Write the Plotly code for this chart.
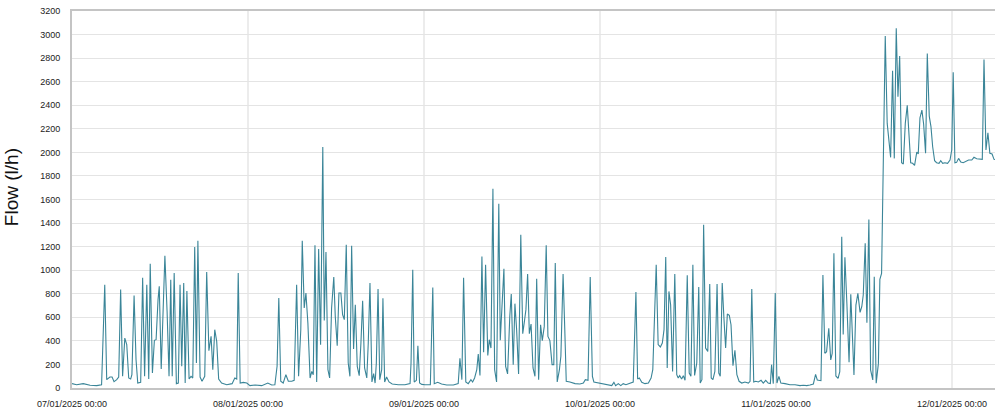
import plotly.graph_objects as go

# Time axis: hours from 07/01/2025 00:00 (each month shown as an equal 720 h span, as in the reference)
jul_hours = [0, 19, 46, 74, 101, 121, 134, 142, 155, 164, 172, 183, 191, 199, 207, 216, 224, 232, 240, 245,
             254, 262, 269, 281, 289, 297, 306, 314, 320, 329, 337, 344, 352, 357, 365, 380, 389, 397, 404, 410,
             418, 427, 435, 442, 449, 457, 463, 470, 479, 487, 494, 502, 509, 515, 524, 532, 543, 551, 560, 569,
             576, 584, 592, 600, 612, 633, 655, 666, 674, 680, 688, 701, 715, 728, 749]
jul_flow = [37, 28, 37, 23, 20, 28, 877, 71, 93, 93, 54, 71, 93, 835, 99, 424, 368, 85, 76, 113,
            784, 240, 42, 48, 936, 99, 877, 76, 1055, 127, 405, 410, 750, 863, 161, 1123, 650, 99, 919, 99,
            976, 37, 42, 877, 184, 891, 42, 823, 76, 99, 85, 1197, 212, 1250, 93, 57, 99, 984, 317, 438,
            156, 495, 396, 76, 42, 28, 37, 85, 76, 976, 42, 48, 42, 20, 25]

aug_hours = [776, 801, 817, 830, 839, 846, 854, 864, 875, 885, 899, 909, 919, 927, 936, 942, 950, 957, 965, 974,
             981, 987, 994, 1001, 1009, 1017, 1026, 1032, 1039, 1047, 1054, 1062, 1071, 1077, 1085, 1092, 1100, 1107, 1114, 1122,
             1130, 1137, 1144, 1152, 1159, 1167, 1175, 1182, 1189, 1197, 1206, 1212, 1219, 1227, 1234, 1240, 1245, 1252, 1259, 1267,
             1272, 1279, 1287, 1297, 1310, 1335, 1362, 1383, 1387, 1394, 1400, 1409, 1415, 1422, 1431, 1444, 1466, 1476, 1482, 1496,
             1512]
aug_flow = [20, 42, 25, 28, 184, 764, 57, 42, 113, 57, 57, 65, 877, 99, 495, 1250, 679, 806, 552, 85,
            141, 113, 1211, 51, 1180, 368, 2045, 574, 1154, 156, 85, 679, 942, 608, 359, 806, 806, 622, 580, 1216,
            212, 99, 1208, 331, 707, 184, 105, 382, 741, 170, 85, 382, 891, 51, 122, 42, 212, 840, 71, 156,
            761, 51, 93, 51, 34, 28, 28, 37, 212, 1004, 51, 65, 359, 42, 31, 28, 28, 852, 37, 48,
            34]

sep_hours = [1533, 1560, 1580, 1587, 1595, 1602, 1611, 1621, 1632, 1639, 1647, 1656, 1662, 1669, 1677, 1684, 1692, 1701, 1707, 1714,
             1722, 1729, 1737, 1746, 1752, 1759, 1767, 1774, 1782, 1791, 1797, 1805, 1812, 1819, 1827, 1836, 1844, 1850, 1857, 1864,
             1871, 1878, 1886, 1894, 1901, 1909, 1917, 1924, 1932, 1940, 1947, 1955, 1964, 1971, 1977, 1985, 1994, 2000, 2009, 2016,
             2022, 2037, 2058, 2078, 2092, 2100, 2111, 2120, 2129, 2135, 2153, 2174, 2194, 2208, 2217, 2224, 2235, 2245, 2255, 2266]
sep_flow = [25, 25, 37, 252, 71, 936, 51, 37, 71, 51, 85, 156, 289, 107, 1117, 303, 1047, 277, 410, 339,
            1692, 156, 51, 1564, 405, 721, 1013, 184, 119, 608, 798, 198, 716, 495, 119, 1301, 461, 552, 665, 967,
            461, 543, 170, 99, 928, 71, 537, 402, 523, 1211, 438, 402, 198, 198, 1061, 51, 156, 269, 967, 495,
            57, 51, 37, 34, 42, 71, 65, 942, 99, 51, 42, 37, 28, 20, 48, 20, 37, 20, 37, 28]

oct_hours = [2296, 2307, 2314, 2321, 2331, 2344, 2358, 2369, 2376, 2382, 2390, 2398, 2407, 2415, 2422, 2429, 2435, 2442, 2449, 2457,
             2466, 2474, 2480, 2486, 2494, 2501, 2508, 2517, 2525, 2532, 2540, 2547, 2556, 2564, 2570, 2577, 2584, 2592, 2601, 2609,
             2615, 2622, 2630, 2639, 2646, 2652, 2660, 2667, 2674, 2681, 2689, 2696, 2704, 2712, 2720, 2729, 2740, 2753, 2767, 2774,
             2781, 2789, 2797, 2808, 2819, 2828, 2838, 2848, 2857, 2862, 2869, 2877, 2884, 2892, 2900, 2917, 2937, 2958, 2978, 2992,
             3006]
oct_flow = [51, 815, 76, 85, 48, 37, 42, 85, 156, 552, 1047, 368, 348, 382, 495, 1112, 170, 820, 707, 141,
            967, 113, 85, 105, 76, 105, 65, 956, 127, 99, 1047, 107, 212, 857, 42, 71, 1386, 339, 311, 883,
            85, 71, 141, 883, 127, 99, 891, 594, 339, 628, 617, 537, 190, 320, 113, 57, 42, 51, 42, 57,
            840, 51, 57, 51, 65, 42, 65, 42, 37, 198, 37, 806, 42, 99, 42, 37, 28, 28, 20, 23,
            20]

nov_hours = [3019, 3033, 3042, 3049, 3064, 3072, 3080, 3087, 3096, 3104, 3110, 3117, 3125, 3134, 3141, 3149, 3155, 3162, 3170, 3179,
             3186, 3192, 3199, 3207, 3215, 3224, 3231, 3237, 3245, 3252, 3260, 3267, 3276, 3282, 3290, 3299, 3305, 3312, 3318, 3321,
             3327, 3335, 3342, 3349, 3357, 3364, 3372, 3379, 3386, 3394, 3401, 3409, 3417, 3424, 3431, 3439, 3447, 3456, 3462, 3469,
             3477, 3484, 3492, 3499, 3507, 3514, 3521, 3529, 3537, 3547, 3554, 3562, 3571, 3582, 3592, 3599, 3605, 3612, 3619, 3627,
             3636, 3646, 3657, 3668, 3681, 3690, 3701, 3714, 3724, 3731, 3739, 3747, 3755, 3764, 3772, 3776]
nov_flow = [25, 34, 116, 68, 62, 959, 294, 308, 506, 238, 294, 1143, 102, 82, 139, 1284, 455, 1109, 719, 218,
            795, 436, 110, 704, 803, 642, 690, 789, 1228, 554, 1431, 153, 68, 945, 40, 209, 922, 973, 1878, 2416,
            2987, 2246, 2105, 1958, 2693, 1949, 3053, 2473, 2818, 1912, 1901, 2246, 2399, 2190, 1912, 1907, 1890, 2003, 1986, 2294,
            2359, 2241, 1992, 2840, 2308, 2218, 2048, 1929, 1912, 1907, 1929, 1907, 1912, 1907, 1935, 2020, 2679, 1912, 1915, 1949,
            1918, 1912, 1927, 1935, 1935, 1958, 1946, 1941, 1941, 2789, 2020, 2167, 1992, 1986, 1941, 1940]

tick_hours = [0, 720, 1440, 2160, 2880, 3600]
tick_labels = ["07/01/2025 00:00", "08/01/2025 00:00", "09/01/2025 00:00",
               "10/01/2025 00:00", "11/01/2025 00:00", "12/01/2025 00:00"]
y_ticks = list(range(0, 3201, 200))

hours = jul_hours + aug_hours + sep_hours + oct_hours + nov_hours
flow = jul_flow + aug_flow + sep_flow + oct_flow + nov_flow
assert len(hours) == len(flow)

fig = go.Figure()
fig.add_trace(go.Scatter(
    x=hours, y=flow, mode="lines",
    line=dict(color="#3a8598", width=1.1),
    hoverinfo="x+y", showlegend=False,
))

font_family = "Liberation Sans, Arial, sans-serif"

fig.update_layout(
    width=995, height=412,
    margin=dict(l=72, r=0, t=11, b=24, pad=0),
    paper_bgcolor="white", plot_bgcolor="white",
    font=dict(family=font_family, size=9, color="#222"),
    xaxis=dict(
        range=[0, max(hours)],
        tickmode="array", tickvals=tick_hours, ticktext=tick_labels,
        showgrid=True, gridcolor="#ececec", gridwidth=2,
        showline=True, linecolor="#c4c4c4", linewidth=2, mirror=True,
        ticks="", ticklabelstandoff=6,
        zeroline=False,
        tickfont=dict(family=font_family, size=9, color="#222"),
    ),
    yaxis=dict(
        range=[0, 3200],
        tickmode="array", tickvals=y_ticks,
        showgrid=True, gridcolor="#e4e4e4", gridwidth=1,
        showline=True, linecolor="#c4c4c4", linewidth=2,
        ticks="", ticklabelstandoff=8,
        zeroline=False,
        tickfont=dict(family=font_family, size=9, color="#222"),
    ),
    annotations=[dict(
        text="Flow (l/h)", textangle=-90,
        xref="paper", yref="paper", x=-0.066, y=0.533,
        xanchor="center", yanchor="middle", showarrow=False,
        font=dict(family=font_family, size=19, color="#111"),
    )],
)

# remove the default 8 px page margin so the 995x412 figure fills the window exactly
fig.write_html("out.html",
               config={"displayModeBar": False},
               post_script="document.body.style.margin='0';document.body.style.overflow='hidden';")
